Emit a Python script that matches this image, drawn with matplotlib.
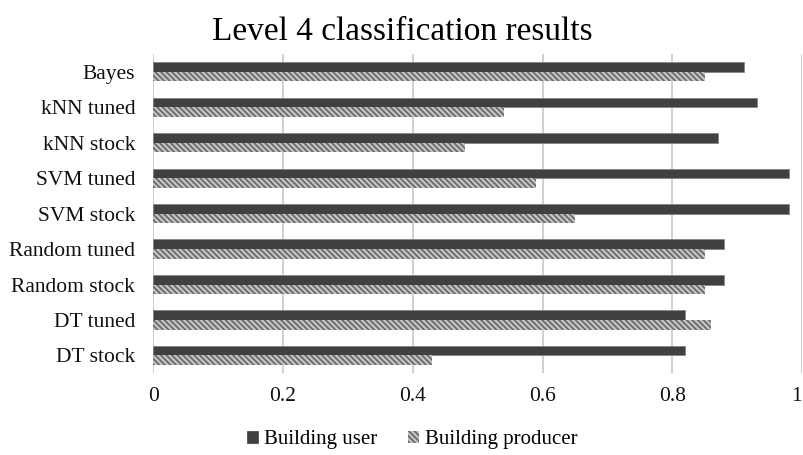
import matplotlib.pyplot as plt
import numpy as np
from matplotlib.patches import Patch

# classifier names, bottom to top
methods = ['DT stock', 'DT tuned', 'Random stock', 'Random tuned', 'SVM stock',
           'SVM tuned', 'kNN stock', 'kNN tuned', 'Bayes']
building_user = [0.82, 0.82, 0.88, 0.88, 0.98, 0.98, 0.87, 0.93, 0.91]
building_producer = [0.43, 0.86, 0.85, 0.85, 0.65, 0.59, 0.48, 0.54, 0.85]
xticks = [0, 0.2, 0.4, 0.6, 0.8, 1]
xtick_labels = ['0', '0.2', '0.4', '0.6', '0.8', '1']

plt.rcParams['font.family'] = ['Liberation Serif', 'DejaVu Serif']
plt.rcParams['hatch.linewidth'] = 1.3

fig = plt.figure(figsize=(8.04, 4.55), dpi=100)
ax = fig.add_axes([0.1907, 0.180, 0.8068, 0.701])

y = np.arange(len(methods))
h = 0.27

user_style = dict(color='#404040', edgecolor='#808080', linewidth=0.5)
prod_style = dict(facecolor='#c6c6c6', edgecolor='#6a6a6a', linewidth=0, hatch='\\\\\\\\\\\\')

ax.barh(y + h / 2, building_user, height=h, zorder=3, **user_style)
ax.barh(y - h / 2, building_producer, height=h, zorder=3, **prod_style)

ax.set_xlim(0, 1)
ax.set_ylim(-0.5, len(methods) - 0.5)
ax.set_xticks(xticks)
ax.set_xticklabels(xtick_labels)
ax.set_yticks(y)
ax.set_yticklabels(methods)
ax.tick_params(axis='both', length=0, labelsize=15.5, colors='#111111')
ax.tick_params(axis='y', pad=13)
ax.tick_params(axis='x', pad=10)
# keep the last tick label inside the figure
ax.get_xticklabels()[-1].set_horizontalalignment('right')
ax.grid(axis='x', color='#d0d0d0', linewidth=1.4, zorder=0)
for s in ax.spines.values():
    s.set_visible(False)

fig.suptitle('Level 4 classification results', fontsize=24, y=0.963, x=0.5)

handles = [Patch(**user_style), Patch(**prod_style)]
fig.legend(handles, ['Building user', 'Building producer'], loc='center',
           bbox_to_anchor=(0.513, 0.034), ncol=2, frameon=False, fontsize=15,
           handlelength=0.5, handleheight=0.5, handletextpad=0.3, columnspacing=1.5)

fig.savefig('out.png', dpi=100)
